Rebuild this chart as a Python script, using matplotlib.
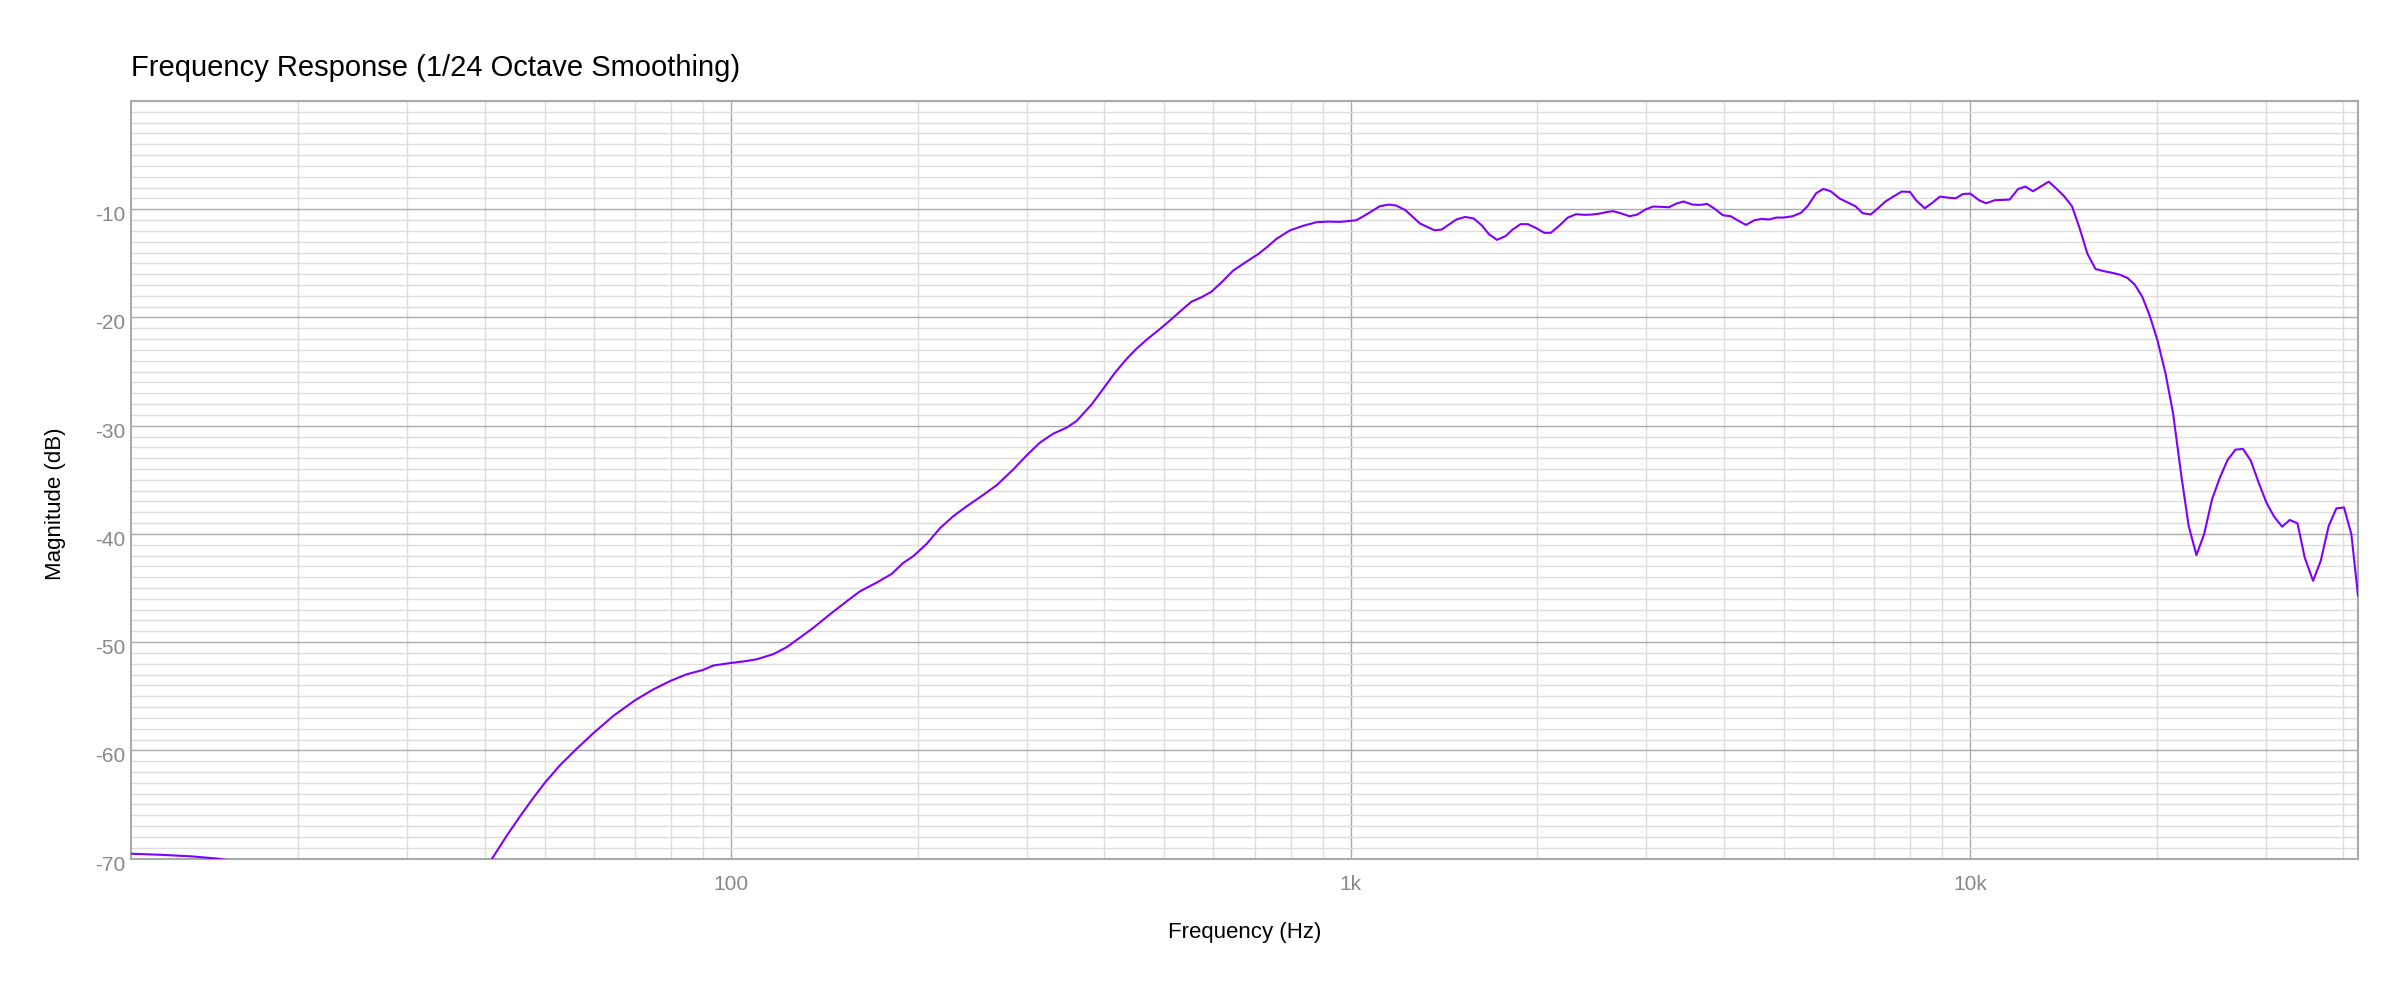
import matplotlib
matplotlib.use("Agg")
import matplotlib.pyplot as plt
from matplotlib.ticker import LogLocator, MultipleLocator, NullFormatter
from matplotlib.transforms import ScaledTranslation

plt.rcParams['font.family'] = ['Liberation Sans', 'DejaVu Sans']
plt.rcParams['axes.unicode_minus'] = False

# values (1/24 octave smoothed response)
freq_hz = [
    10.74, 12.0, 13.5, 14.8, 16.5, 20.0, 30.0, 38.0, 40.0,
    41.2, 43.4, 45.6, 47.9, 50.0, 52.9, 56.3, 59.8, 64.5, 70.0,
    74.8, 79.9, 84.7, 89.9, 93.5, 99.7, 105.9, 109.9, 116.8, 122.8,
    129.0, 135.6, 144.2, 153.5, 161.3, 171.6, 181.4, 189.4, 196.6, 206.7,
    217.1, 228.1, 239.8, 255.0, 268.1, 285.1, 299.6, 314.8, 330.7, 347.7,
    360.8, 381.5, 398.3, 416.0, 434.5, 451.0, 468.0, 491.7, 510.5, 530.0,
    553.4, 574.2, 596.0, 618.6, 645.7, 674.5, 708.8, 731.1, 758.8, 797.2,
    837.5, 880.3, 919.2, 960.0, 1020, 1055, 1114, 1152, 1184, 1225,
    1293, 1328, 1364, 1401, 1480, 1530, 1579, 1626, 1671, 1721,
    1776, 1824, 1879, 1931, 1992, 2052, 2102, 2174, 2240, 2311,
    2381, 2455, 2523, 2593, 2653, 2736, 2818, 2900, 2995, 3077,
    3174, 3262, 3352, 3443, 3561, 3659, 3760, 3862, 3984, 4104,
    4217, 4344, 4480, 4603, 4729, 4860, 4992, 5163, 5326, 5465,
    5638, 5790, 5950, 6155, 6341, 6523, 6702, 6904, 7094, 7290,
    7510, 7745, 7990, 8180, 8440, 8690, 8930, 9200, 9470, 9730,
    10000, 10330, 10600, 10950, 11570, 11940, 12270, 12620, 13380, 13770,
    14170, 14590, 15020, 15450, 15920, 16380, 16890, 17420, 17930, 18420,
    18950, 19480, 20040, 20650, 21240, 21910, 22510, 23170, 23840, 24550,
    25270, 26000, 26790, 27550, 28350, 29210, 30060, 30920, 31860, 32780,
    33730, 34650, 35740, 36780, 37880, 38980, 40100, 41210, 42240,
]
magnitude_db = [
    -69.55, -69.65, -69.8, -70.0, -70.4, -72.0, -76.0, -73.0, -71.2,
    -69.9, -67.88, -66.09, -64.39, -62.99, -61.37, -59.84, -58.44, -56.81, -55.35,
    -54.37, -53.56, -52.97, -52.58, -52.16, -51.93, -51.74, -51.58, -51.12, -50.47,
    -49.59, -48.68, -47.44, -46.23, -45.3, -44.5, -43.7, -42.68, -42.06, -40.92,
    -39.48, -38.37, -37.45, -36.4, -35.5, -34.05, -32.75, -31.57, -30.74, -30.18,
    -29.57, -28.04, -26.6, -25.12, -23.83, -22.88, -22.06, -21.07, -20.28, -19.45,
    -18.53, -18.13, -17.61, -16.75, -15.67, -14.94, -14.14, -13.53, -12.73, -11.96,
    -11.53, -11.20, -11.14, -11.17, -11.02, -10.55, -9.72, -9.57, -9.66, -10.09,
    -11.32, -11.63, -11.94, -11.88, -10.95, -10.71, -10.86, -11.48, -12.31, -12.83,
    -12.49, -11.88, -11.38, -11.38, -11.75, -12.18, -12.18, -11.48, -10.77, -10.46,
    -10.52, -10.49, -10.40, -10.25, -10.18, -10.40, -10.65, -10.49, -10.0, -9.75,
    -9.78, -9.82, -9.48, -9.29, -9.57, -9.6, -9.51, -9.94, -10.55, -10.65,
    -11.05, -11.45, -11.02, -10.89, -10.95, -10.77, -10.77, -10.65, -10.34, -9.69,
    -8.52, -8.12, -8.34, -9.02, -9.38, -9.72, -10.37, -10.49, -9.91, -9.29,
    -8.83, -8.37, -8.40, -9.20, -9.91, -9.39, -8.83, -8.93, -8.99, -8.59,
    -8.56, -9.17, -9.45, -9.17, -9.11, -8.13, -7.91, -8.34, -7.45, -8.10,
    -8.80, -9.72, -11.81, -14.11, -15.52, -15.71, -15.86, -16.04, -16.35, -16.96,
    -18.10, -19.85, -22.09, -25.15, -28.83, -34.66, -39.26, -41.96, -40.03, -36.81,
    -34.82, -33.19, -32.21, -32.15, -33.22, -35.28, -37.12, -38.40, -39.33, -38.71,
    -39.02, -42.18, -44.33, -42.48, -39.26, -37.64, -37.55, -40.03, -45.7,
]

x_ticks = [100, 1000, 10000]
x_tick_labels = ['100', '1k', '10k']
y_ticks = [-70, -60, -50, -40, -30, -20, -10]

fig = plt.figure(figsize=(24, 10), dpi=100)
ax = fig.add_axes([0.0546, 0.1414, 0.9279, 0.7576])

ax.semilogx(freq_hz, magnitude_db, color='#7f00ff', lw=1.5, zorder=3)

ax.set_xlim(10.74, 42240)
ax.set_ylim(-70, 0)
ax.set_xticks(x_ticks)
ax.set_xticklabels(x_tick_labels)
ax.xaxis.set_minor_locator(LogLocator(base=10, subs=range(2, 10)))
ax.xaxis.set_minor_formatter(NullFormatter())
ax.set_yticks(y_ticks)
ax.yaxis.set_minor_locator(MultipleLocator(1))

ax.set_axisbelow(True)
ax.grid(which='minor', color='#dddddd', lw=1.0)
ax.grid(which='major', color='#aaaaaa', lw=1.0)
ax.tick_params(which='both', length=0, labelcolor='#888888', labelsize=15)
ax.tick_params(axis='x', pad=12)
ax.tick_params(axis='y', pad=4)
for sp in ax.spines.values():
    sp.set_color('#aaaaaa')
    sp.set_linewidth(1.5)

# y labels sit a little below their gridline in the reference
shift = ScaledTranslation(0, -0.045, fig.dpi_scale_trans)
for lbl in ax.get_yticklabels():
    lbl.set_transform(lbl.get_transform() + shift)

fig.text(0.0546, 0.924, 'Frequency Response (1/24 Octave Smoothing)',
         fontsize=21, color='black', va='baseline', ha='left')
fig.text(0.5185, 0.0675, 'Frequency (Hz)', fontsize=16, ha='center', va='center')
fig.text(0.023, 0.496, 'Magnitude (dB)', fontsize=16, ha='center', va='center',
         rotation=90)

fig.savefig('out.png', dpi=100)
